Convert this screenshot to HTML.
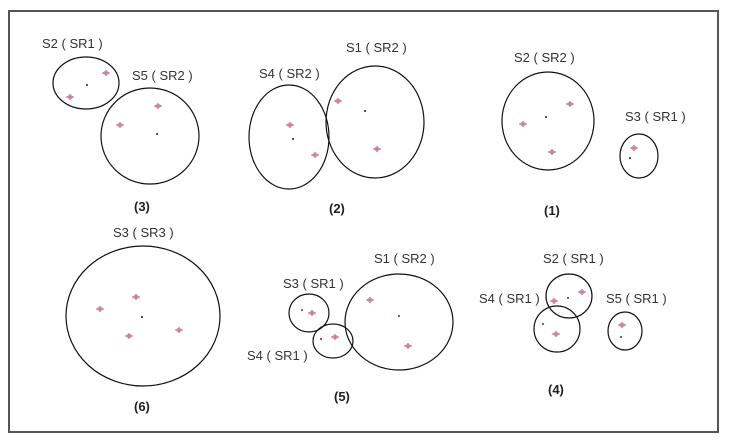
<!DOCTYPE html>
<html><head><style>
html,body{margin:0;padding:0;background:#fff;}
svg{display:block;}
text{font-family:"Liberation Sans",sans-serif;font-size:13px;fill:#333;}
.b{font-weight:bold;font-size:13px;fill:#222;}
</style></head><body>
<svg width="732" height="446" viewBox="0 0 732 446" xmlns="http://www.w3.org/2000/svg">
<defs>
<g id="m"><path d="M-4,0 L0,-3 L4,0 L0,3 Z" fill="#d9a6b2"/><path d="M-4,0 H4 M0,-3 V3" stroke="#c27488" stroke-width="1"/></g>
<g id="d"><rect x="-1" y="-1" width="2" height="2" fill="#555"/></g>
<g id="p"><rect x="-1" y="-1" width="2" height="2" fill="#b4485f"/></g>
</defs>
<rect x="9" y="11" width="709" height="421" fill="#fff" stroke="#555" stroke-width="2"/>
<g fill="none" stroke="#111" stroke-width="1.2">
<ellipse cx="86" cy="83" rx="33" ry="26"/>
<ellipse cx="150" cy="136" rx="49" ry="48"/>
<ellipse cx="289" cy="137" rx="40" ry="52"/>
<ellipse cx="375" cy="122" rx="49" ry="56"/>
<ellipse cx="548" cy="121" rx="46" ry="49"/>
<ellipse cx="639" cy="156" rx="19" ry="22"/>
<ellipse cx="143" cy="316" rx="77" ry="70"/>
<ellipse cx="309" cy="313" rx="20" ry="19"/>
<ellipse cx="333" cy="341" rx="20" ry="17"/>
<ellipse cx="399" cy="322" rx="54" ry="48"/>
<ellipse cx="569" cy="296" rx="23" ry="22"/>
<ellipse cx="557" cy="329" rx="23" ry="23"/>
<ellipse cx="625" cy="331" rx="17" ry="19"/>
</g>
<use href="#m" x="106" y="73"/><use href="#m" x="70" y="97"/><use href="#d" x="87" y="85"/>
<use href="#m" x="158" y="106"/><use href="#m" x="120" y="125"/><use href="#d" x="157" y="134"/>
<use href="#m" x="290" y="125"/><use href="#m" x="315" y="155"/><use href="#d" x="293" y="139"/>
<use href="#m" x="338" y="101"/><use href="#m" x="377" y="149"/><use href="#d" x="365" y="111"/>
<use href="#m" x="570" y="104"/><use href="#m" x="523" y="124"/><use href="#m" x="552" y="152"/><use href="#d" x="546" y="117"/>
<use href="#m" x="634" y="148"/><use href="#d" x="630" y="158"/>
<use href="#m" x="136" y="297"/><use href="#m" x="100" y="309"/><use href="#m" x="179" y="330"/><use href="#m" x="129" y="336"/><use href="#d" x="142" y="317"/>
<use href="#m" x="312" y="313"/><use href="#p" x="302" y="310"/>
<use href="#m" x="335" y="337"/><use href="#p" x="321" y="339"/>
<use href="#m" x="370" y="300"/><use href="#m" x="408" y="346"/><use href="#p" x="399" y="316"/>
<use href="#m" x="554" y="301"/><use href="#m" x="582" y="292"/><use href="#p" x="568" y="298"/>
<use href="#p" x="543" y="324"/><use href="#m" x="556" y="334"/>
<use href="#m" x="622" y="325"/><use href="#p" x="621" y="337"/>
<text x="42" y="48">S2 ( SR1 )</text>
<text x="132" y="80">S5 ( SR2 )</text>
<text x="134" y="211" class="b">(3)</text>
<text x="259" y="78">S4 ( SR2 )</text>
<text x="346" y="52">S1 ( SR2 )</text>
<text x="329" y="213" class="b">(2)</text>
<text x="514" y="62">S2 ( SR2 )</text>
<text x="625" y="121">S3 ( SR1 )</text>
<text x="544" y="215" class="b">(1)</text>
<text x="113" y="237">S3 ( SR3 )</text>
<text x="134" y="411" class="b">(6)</text>
<text x="283" y="288">S3 ( SR1 )</text>
<text x="374" y="263">S1 ( SR2 )</text>
<text x="247" y="360">S4 ( SR1 )</text>
<text x="334" y="401" class="b">(5)</text>
<text x="543" y="263">S2 ( SR1 )</text>
<text x="479" y="303">S4 ( SR1 )</text>
<text x="606" y="303">S5 ( SR1 )</text>
<text x="548" y="394" class="b">(4)</text>
</svg>
</body></html>
